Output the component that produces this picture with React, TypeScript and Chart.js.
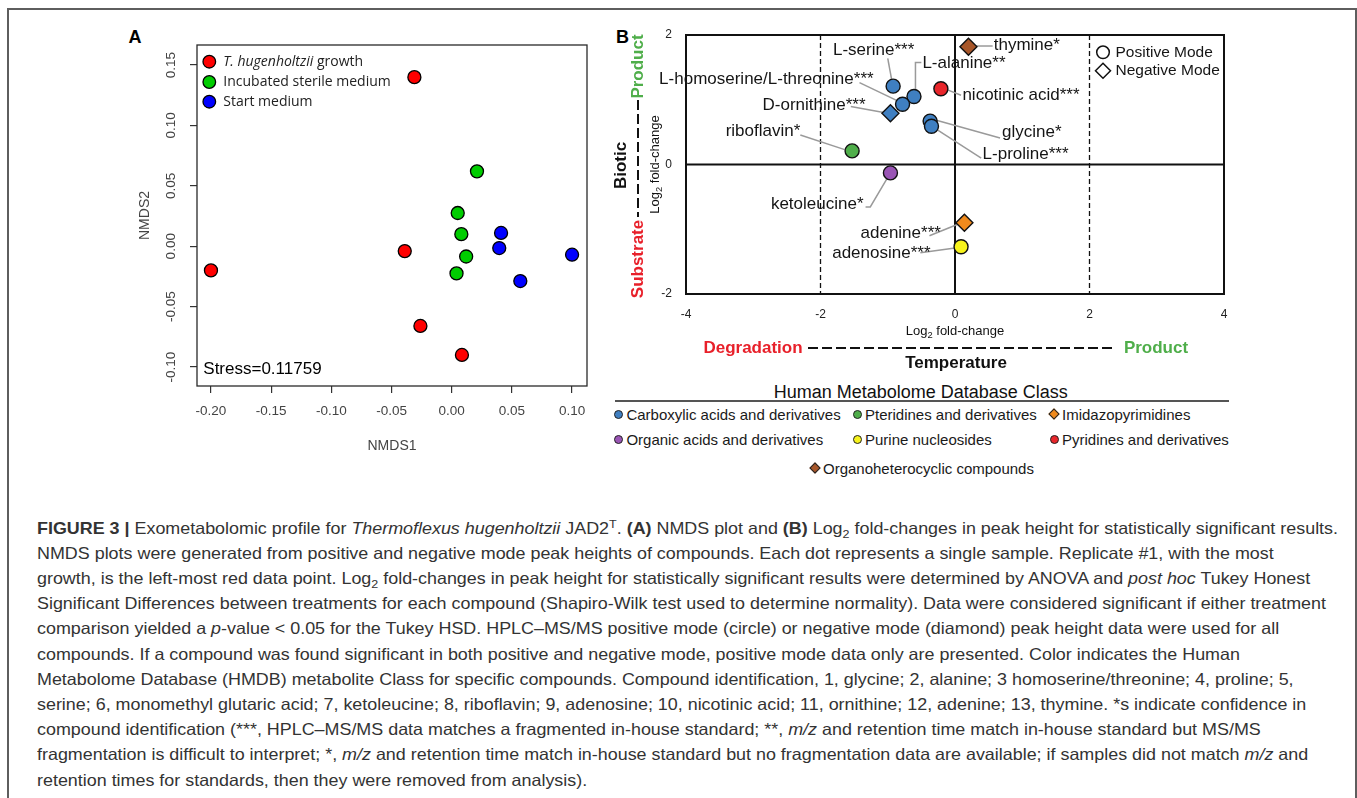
import React, { useEffect, useLayoutEffect, useRef, useState } from 'react';
import { Chart, registerables } from 'chart.js';
Chart.register(...registerables);

const SANS = '"Liberation Sans", Arial, Helvetica, sans-serif';

// ---------- Panel A : NMDS ----------
const nmdsGroups = ['T. hugenholtzii growth', 'Incubated sterile medium', 'Start medium'];
const nmdsColors = ['#ff0000', '#00cd00', '#0000ff'];
const growthX = [-0.031, -0.039, -0.2, -0.026, 0.0085];
const growthY = [0.14, -0.004, -0.02, -0.066, -0.09];
const sterileX = [0.021, 0.005, 0.008, 0.012, 0.004];
const sterileY = [0.062, 0.0275, 0.010, -0.0085, -0.0225];
const startX = [0.041, 0.0395, 0.1, 0.057];
const startY = [0.011, -0.0015, -0.007, -0.0288];
const nmdsXRange = [-0.2116, 0.1124];
const nmdsYRange = [-0.1157, 0.1666];
const nmdsStep = 0.05;
const stressLabel = 'Stress=0.11759';

// ---------- Panel B : Log2 fold changes ----------
const compounds = ['thymine*', 'L-serine***', 'L-alanine**', 'L-homoserine/L-threonine***', 'nicotinic acid***', 'D-ornithine***', 'glycine*', 'L-proline***', 'riboflavin*', 'ketoleucine*', 'adenine***', 'adenosine***'];
const temperatureFC = [0.2, -0.92, -0.61, -0.78, -0.21, -0.96, -0.37, -0.35, -1.53, -0.96, 0.14, 0.09];
const bioticFC = [1.82, 1.21, 1.05, 0.93, 1.17, 0.79, 0.67, 0.59, 0.21, -0.13, -0.9, -1.27];
const compoundClass = [6, 0, 0, 0, 5, 0, 0, 0, 1, 3, 2, 4];
const ionMode = ['neg', 'pos', 'pos', 'pos', 'pos', 'neg', 'pos', 'pos', 'pos', 'pos', 'neg', 'pos'];
const hmdbClasses = ['Carboxylic acids and derivatives', 'Pteridines and derivatives', 'Imidazopyrimidines', 'Organic acids and derivatives', 'Purine nucleosides', 'Pyridines and derivatives', 'Organoheterocyclic compounds'];
const hmdbColors = ['#3f7fc1', '#4fae4a', '#f08a1c', '#9a55b5', '#f7f31c', '#e8262b', '#a8572a'];
const hmdbShapes = ['circle', 'circle', 'rectRot', 'circle', 'circle', 'circle', 'rectRot'];
const fcRange = { xMin: -4, xMax: 4, yMin: -2, yMax: 2, step: 2 };
const refLinesDashed = [-2, 2];

// annotation layout (label anchor and leader path, in axis units)
const labelLayout: { ax: number; ay: number; align: CanvasTextAlign; path: number[][] }[] = [
  { ax: 0.576, ay: 1.84, align: 'left', path: [[0.3, 1.83], [0.56, 1.83]] },
  { ax: -1.21, ay: 1.77, align: 'center', path: [[-1.0, 1.64], [-0.94, 1.3]] },
  { ax: -0.485, ay: 1.56, align: 'left', path: [[-0.5, 1.575], [-0.588, 1.575], [-0.588, 1.13]] },
  { ax: -1.21, ay: 1.31, align: 'right', path: [[-1.42, 1.265], [-0.83, 0.97]] },
  { ax: 0.11, ay: 1.07, align: 'left', path: [[-0.13, 1.16], [0.09, 1.07]] },
  { ax: -1.33, ay: 0.92, align: 'right', path: [[-1.55, 0.895], [-1.04, 0.8]] },
  { ax: 0.7, ay: 0.49, align: 'left', path: [[-0.33, 0.7], [0.67, 0.41]] },
  { ax: 0.41, ay: 0.16, align: 'left', path: [[-0.32, 0.575], [0.39, 0.1]] },
  { ax: -2.3, ay: 0.51, align: 'right', path: [[-2.3, 0.455], [-1.64, 0.23]] },
  { ax: -1.36, ay: -0.62, align: 'right', path: [[-1.33, -0.655], [-1.26, -0.655], [-1.0, -0.2]] },
  { ax: -0.21, ay: -1.067, align: 'right', path: [[-0.38, -1.1], [0.06, -0.915]] },
  { ax: -0.364, ay: -1.364, align: 'right', path: [[-0.515, -1.364], [0.0, -1.29]] },
];

const fmt2 = (v: number) => (Math.abs(v) < 1e-9 ? 0 : v).toFixed(2);

function drawLog2(ctx: CanvasRenderingContext2D, cx: number, cy: number, size: number) {
  const f = `${size}px ${SANS}`;
  const fs = `${size * 0.72}px ${SANS}`;
  ctx.font = f;
  const w1 = ctx.measureText('Log').width;
  const w3 = ctx.measureText(' fold-change').width;
  ctx.font = fs;
  const w2 = ctx.measureText('2').width;
  const x0 = cx - (w1 + w2 + w3) / 2;
  ctx.textAlign = 'left';
  ctx.textBaseline = 'middle';
  ctx.font = f;
  ctx.fillText('Log', x0, cy);
  ctx.font = fs;
  ctx.fillText('2', x0 + w1, cy + size * 0.32);
  ctx.font = f;
  ctx.fillText(' fold-change', x0 + w1 + w2, cy);
}

function ChartA() {
  const ref = useRef<HTMLCanvasElement>(null);
  useEffect(() => {
    const xs = [growthX, sterileX, startX];
    const ys = [growthY, sterileY, startY];
    const plugin = {
      id: 'nmdsDecor',
      beforeDatasetsDraw(chart: any) {
        const { ctx, chartArea: a } = chart;
        ctx.save();
        ctx.strokeStyle = '#2a2a2a';
        ctx.lineWidth = 1.3;
        ctx.strokeRect(a.left, a.top, a.right - a.left, a.bottom - a.top);
        ctx.restore();
      },
      afterDatasetsDraw(chart: any) {
        const { ctx, chartArea: a, scales } = chart;
        ctx.save();
        // y tick labels (rotated, R style)
        ctx.fillStyle = '#444';
        ctx.font = `13.5px ${SANS}`;
        ctx.textAlign = 'center';
        ctx.textBaseline = 'middle';
        scales.y.ticks.forEach((t: any) => {
          const py = scales.y.getPixelForValue(t.value);
          ctx.save();
          ctx.translate(a.left - 25.5, py);
          ctx.rotate(-Math.PI / 2);
          ctx.fillText(fmt2(t.value), 0, 0);
          ctx.restore();
        });
        // axis titles
        ctx.font = `14px ${SANS}`;
        ctx.fillText('NMDS1', (a.left + a.right) / 2, 426);
        ctx.save();
        ctx.translate(25, (a.top + a.bottom) / 2);
        ctx.rotate(-Math.PI / 2);
        ctx.fillText('NMDS2', 0, 0);
        ctx.restore();
        // legend
        const lx = a.left + 12.3;
        const ly = [a.top + 16.7, a.top + 37, a.top + 56.7];
        nmdsGroups.forEach((g, i) => {
          ctx.beginPath();
          ctx.arc(lx, ly[i], 6.3, 0, Math.PI * 2);
          ctx.fillStyle = nmdsColors[i];
          ctx.fill();
          ctx.lineWidth = 1.3;
          ctx.strokeStyle = '#000';
          ctx.stroke();
          ctx.fillStyle = '#222';
          ctx.textAlign = 'left';
          let tx = lx + 14;
          if (i === 0) {
            const it = 'T. hugenholtzii';
            ctx.font = `italic 14px "Open Sans", ${SANS}`;
            ctx.fillText(it, tx, ly[i]);
            tx += ctx.measureText(it).width;
            ctx.font = `14px "Open Sans", ${SANS}`;
            ctx.fillText(' growth', tx, ly[i]);
          } else {
            ctx.font = `14px "Open Sans", ${SANS}`;
            ctx.fillText(g, tx, ly[i]);
          }
        });
        // stress
        ctx.fillStyle = '#000';
        ctx.font = `17px ${SANS}`;
        ctx.textAlign = 'left';
        ctx.fillText(stressLabel, a.left + 6.3, a.bottom - 17);
        ctx.restore();
      },
    };
    const chart = new Chart(ref.current!, {
      type: 'scatter',
      data: {
        datasets: nmdsGroups.map((g, i) => ({
          label: g,
          data: xs[i].map((x, j) => ({ x, y: ys[i][j] })),
          backgroundColor: nmdsColors[i],
          borderColor: '#000',
          borderWidth: 1.3,
          pointRadius: 6.5,
          pointHoverRadius: 6.5,
        })),
      },
      options: {
        responsive: false,
        animation: false,
        devicePixelRatio: 1,
        events: [],
        layout: { padding: { left: 0, top: 25, right: 13, bottom: 0 } },
        plugins: { legend: { display: false }, tooltip: { enabled: false } },
        scales: {
          x: {
            type: 'linear',
            min: nmdsXRange[0],
            max: nmdsXRange[1],
            ticks: { stepSize: nmdsStep, includeBounds: false, autoSkip: false, maxRotation: 0, padding: 10, color: '#444', font: { size: 13.5, family: SANS }, callback: (v: any) => fmt2(Number(v)) },
            grid: { display: true, drawOnChartArea: false, drawTicks: true, tickLength: 7, color: '#333', lineWidth: 1.2 },
            border: { display: false },
            afterFit: (s: any) => { s.height = 74; s.paddingLeft = 0; s.paddingRight = 0; },
          },
          y: {
            type: 'linear',
            min: nmdsYRange[0],
            max: nmdsYRange[1],
            ticks: { display: false, stepSize: nmdsStep, includeBounds: false },
            grid: { display: true, drawOnChartArea: false, drawTicks: true, tickLength: 7, color: '#333', lineWidth: 1.2 },
            border: { display: false },
            afterFit: (s: any) => { s.width = 77; s.paddingTop = 0; s.paddingBottom = 0; },
          },
        },
      } as any,
      plugins: [plugin],
    });
    return () => chart.destroy();
  }, []);
  return <canvas ref={ref} width={480} height={440} style={{ position: 'absolute', left: 120, top: 20, width: 480, height: 440 }} />;
}

function ChartB() {
  const ref = useRef<HTMLCanvasElement>(null);
  useEffect(() => {
    const datasets = hmdbClasses.map((cls, c) => {
      const idx = compounds.map((_, i) => i).filter((i) => compoundClass[i] === c);
      return {
        label: cls,
        data: idx.map((i) => ({ x: temperatureFC[i], y: bioticFC[i] })),
        pointStyle: idx.map((i) => (ionMode[i] === 'neg' ? 'rectRot' : 'circle')),
        pointRadius: idx.map((i) => (ionMode[i] === 'neg' ? 8.5 : 7)),
        pointHoverRadius: idx.map((i) => (ionMode[i] === 'neg' ? 8.5 : 7)),
        backgroundColor: hmdbColors[c],
        borderColor: '#111',
        borderWidth: 1.4,
      };
    });
    const plugin = {
      id: 'fcDecor',
      beforeDatasetsDraw(chart: any) {
        const { ctx, chartArea: a, scales } = chart;
        const X = (v: number) => scales.x.getPixelForValue(v);
        const Y = (v: number) => scales.y.getPixelForValue(v);
        ctx.save();
        ctx.strokeStyle = '#111';
        ctx.lineWidth = 1.3;
        ctx.setLineDash([5, 3]);
        refLinesDashed.forEach((v) => {
          ctx.beginPath();
          ctx.moveTo(X(v), a.top);
          ctx.lineTo(X(v), a.bottom);
          ctx.stroke();
        });
        ctx.setLineDash([]);
        ctx.lineWidth = 2;
        ctx.beginPath();
        ctx.moveTo(X(0), a.top);
        ctx.lineTo(X(0), a.bottom);
        ctx.moveTo(a.left, Y(0));
        ctx.lineTo(a.right, Y(0));
        ctx.stroke();
        ctx.strokeRect(a.left, a.top, a.right - a.left, a.bottom - a.top);
        // leader lines
        ctx.strokeStyle = '#9a9a9a';
        ctx.lineWidth = 1.5;
        labelLayout.forEach((l) => {
          ctx.beginPath();
          l.path.forEach((p, k) => (k ? ctx.lineTo(X(p[0]), Y(p[1])) : ctx.moveTo(X(p[0]), Y(p[1]))));
          ctx.stroke();
        });
        ctx.restore();
      },
      afterDatasetsDraw(chart: any) {
        const { ctx, chartArea: a, scales } = chart;
        const X = (v: number) => scales.x.getPixelForValue(v);
        const Y = (v: number) => scales.y.getPixelForValue(v);
        ctx.save();
        // compound labels
        ctx.fillStyle = '#151515';
        ctx.font = `17px ${SANS}`;
        ctx.textBaseline = 'middle';
        labelLayout.forEach((l, i) => {
          ctx.textAlign = l.align;
          ctx.fillText(compounds[i], X(l.ax), Y(l.ay));
        });
        // mode legend
        ctx.font = `15.5px ${SANS}`;
        ctx.textAlign = 'left';
        ctx.lineWidth = 1.5;
        ctx.strokeStyle = '#111';
        ctx.beginPath();
        ctx.arc(503, 32.3, 6.3, 0, Math.PI * 2);
        ctx.stroke();
        ctx.fillText('Positive Mode', 515.5, 32.3);
        ctx.beginPath();
        ctx.moveTo(503, 50.7 - 7.5);
        ctx.lineTo(510.5, 50.7);
        ctx.lineTo(503, 50.7 + 7.5);
        ctx.lineTo(495.5, 50.7);
        ctx.closePath();
        ctx.stroke();
        ctx.fillText('Negative Mode', 515.5, 50.7);
        // axis titles
        ctx.fillStyle = '#111';
        drawLog2(ctx, (a.left + a.right) / 2, 311.7, 13);
        ctx.save();
        ctx.translate(55, (a.top + a.bottom) / 2);
        ctx.rotate(-Math.PI / 2);
        drawLog2(ctx, 0, 0, 13);
        ctx.restore();
        // side annotation (Substrate --- Product / Biotic)
        const rot = (txt: string, x: number, y: number, color: string) => {
          ctx.save();
          ctx.translate(x, y);
          ctx.rotate(-Math.PI / 2);
          ctx.fillStyle = color;
          ctx.textAlign = 'center';
          ctx.textBaseline = 'middle';
          ctx.fillText(txt, 0, 0);
          ctx.restore();
        };
        ctx.font = `bold 17px ${SANS}`;
        rot('Product', 38, 46.5, '#4fae4a');
        rot('Substrate', 38, 239, '#e8202a');
        rot('Biotic', 21.7, 145.5, '#111');
        ctx.strokeStyle = '#111';
        ctx.lineWidth = 2;
        ctx.setLineDash([10, 4]);
        ctx.beginPath();
        ctx.moveTo(38, 80);
        ctx.lineTo(38, 197);
        ctx.moveTo(208, 328);
        ctx.lineTo(514, 328);
        ctx.stroke();
        ctx.setLineDash([]);
        ctx.textAlign = 'center';
        ctx.textBaseline = 'middle';
        ctx.fillStyle = '#e8202a';
        ctx.fillText('Degradation', 153, 328);
        ctx.fillStyle = '#4fae4a';
        ctx.fillText('Product', 556, 328);
        ctx.fillStyle = '#111';
        ctx.fillText('Temperature', 356, 343.5);
        ctx.restore();
      },
    };
    const chart = new Chart(ref.current!, {
      type: 'scatter',
      data: { datasets },
      options: {
        responsive: false,
        animation: false,
        devicePixelRatio: 1,
        events: [],
        layout: { padding: { left: 0, top: 15, right: 16, bottom: 0 } },
        plugins: { legend: { display: false }, tooltip: { enabled: false } },
        scales: {
          x: {
            type: 'linear',
            min: fcRange.xMin,
            max: fcRange.xMax,
            ticks: { stepSize: fcRange.step, autoSkip: false, maxRotation: 0, padding: 5, color: '#222', font: { size: 12, family: SANS } },
            grid: { display: false },
            border: { display: false },
            afterFit: (s: any) => { s.height = 86; s.paddingLeft = 0; s.paddingRight = 0; },
          },
          y: {
            type: 'linear',
            min: fcRange.yMin,
            max: fcRange.yMax,
            ticks: { stepSize: fcRange.step, padding: 6, color: '#222', font: { size: 12, family: SANS } },
            grid: { display: false },
            border: { display: false },
            afterFit: (s: any) => { s.width = 86; s.paddingTop = 0; s.paddingBottom = 0; },
          },
        },
      } as any,
      plugins: [plugin],
    });
    return () => chart.destroy();
  }, []);
  return <canvas ref={ref} width={640} height={360} style={{ position: 'absolute', left: 600, top: 20, width: 640, height: 360 }} />;
}

const legendSlots = [
  [618.4, 414.3], [857, 414.3], [1054, 414.3],
  [618.4, 439.3], [857, 439.3], [1054, 439.3],
  [815, 468.3],
];
const legendOrder = [0, 1, 2, 3, 4, 5, 6];

function HmdbLegend() {
  return (
    <>
      <div style={{ position: 'absolute', left: 920.8, top: 391.7, transform: 'translate(-50%,-50%)', font: `18px ${SANS}`, color: '#111', whiteSpace: 'nowrap' }}>
        Human Metabolome Database Class
      </div>
      <div style={{ position: 'absolute', left: 615, top: 400, width: 614, height: 1.5, background: '#555' }} />
      {legendOrder.map((c, k) => {
        const [x, y] = legendSlots[k];
        const diamond = hmdbShapes[c] === 'rectRot';
        return (
          <React.Fragment key={c}>
            <div
              style={{
                position: 'absolute',
                left: x - (diamond ? 4 : 4.5),
                top: y - (diamond ? 4 : 4.5),
                width: diamond ? 8 : 9,
                height: diamond ? 8 : 9,
                boxSizing: 'border-box',
                border: '1px solid #222',
                borderRadius: diamond ? 0 : '50%',
                background: hmdbColors[c],
                transform: diamond ? 'rotate(45deg)' : 'none',
              }}
            />
            <div style={{ position: 'absolute', left: x + 8, top: y, transform: 'translateY(-50%)', font: `15px ${SANS}`, color: '#1a1a1a', whiteSpace: 'nowrap' }}>
              {hmdbClasses[c]}
            </div>
          </React.Fragment>
        );
      })}
    </>
  );
}

const supS: React.CSSProperties = { fontSize: '0.7em', lineHeight: 0, verticalAlign: 'super' };
const subS: React.CSSProperties = { fontSize: '0.7em', lineHeight: 0, verticalAlign: 'sub' };

const captionLines: React.ReactNode[] = [
  <><b>FIGURE 3 |</b> Exometabolomic profile for <i>Thermoflexus hugenholtzii</i> JAD2<span style={supS}>T</span>. <b>(A)</b> NMDS plot and <b>(B)</b> Log<span style={subS}>2</span> fold-changes in peak height for statistically significant results.</>,
  <>NMDS plots were generated from positive and negative mode peak heights of compounds. Each dot represents a single sample. Replicate #1, with the most</>,
  <>growth, is the left-most red data point. Log<span style={subS}>2</span> fold-changes in peak height for statistically significant results were determined by ANOVA and <i>post hoc</i> Tukey Honest</>,
  <>Significant Differences between treatments for each compound (Shapiro-Wilk test used to determine normality). Data were considered significant if either treatment</>,
  <>comparison yielded a <i>p</i>-value &lt; 0.05 for the Tukey HSD. HPLC–MS/MS positive mode (circle) or negative mode (diamond) peak height data were used for all</>,
  <>compounds. If a compound was found significant in both positive and negative mode, positive mode data only are presented. Color indicates the Human</>,
  <>Metabolome Database (HMDB) metabolite Class for specific compounds. Compound identification, 1, glycine; 2, alanine; 3 homoserine/threonine; 4, proline; 5,</>,
  <>serine; 6, monomethyl glutaric acid; 7, ketoleucine; 8, riboflavin; 9, adenosine; 10, nicotinic acid; 11, ornithine; 12, adenine; 13, thymine. *s indicate confidence in</>,
  <>compound identification (***, HPLC–MS/MS data matches a fragmented in-house standard; **, <i>m/z</i> and retention time match in-house standard but MS/MS</>,
  <>fragmentation is difficult to interpret; *, <i>m/z</i> and retention time match in-house standard but no fragmentation data are available; if samples did not match <i>m/z</i> and</>,
  <>retention times for standards, then they were removed from analysis).</>,
];
const captionLeft = 37;
const captionFirstLineWidth = 1301;

function Caption() {
  const firstRef = useRef<HTMLSpanElement>(null);
  const [scale, setScale] = useState(1);
  useLayoutEffect(() => {
    const w = firstRef.current ? firstRef.current.getBoundingClientRect().width : 0;
    if (w > 0) setScale(captionFirstLineWidth / w);
  }, []);
  return (
    <div style={{ position: 'absolute', left: captionLeft, top: 515.7, transform: `scaleX(${scale})`, transformOrigin: 'left top', font: `16.5px ${SANS}`, color: '#333' }}>
      {captionLines.map((l, i) => (
        <div key={i} style={{ height: 25.2, lineHeight: '25.2px', whiteSpace: 'nowrap' }}>
          <span ref={i === 0 ? firstRef : undefined} style={{ display: 'inline-block' }}>{l}</span>
        </div>
      ))}
    </div>
  );
}

export default function App() {
  return (
    <div style={{ position: 'absolute', left: 0, top: 0, width: 1357, height: 798, overflow: 'hidden', background: '#fff' }}>
      <div style={{ position: 'absolute', left: 7, top: 8, width: 1350, height: 820, boxSizing: 'border-box', border: '2px solid #5e5e5e' }} />
      <div style={{ position: 'absolute', left: 135, top: 36.5, transform: 'translate(-50%,-50%)', font: `bold 18px ${SANS}`, color: '#000' }}>A</div>
      <div style={{ position: 'absolute', left: 622.5, top: 37, transform: 'translate(-50%,-50%)', font: `bold 18px ${SANS}`, color: '#000' }}>B</div>
      <ChartA />
      <ChartB />
      <HmdbLegend />
      <Caption />
    </div>
  );
}
